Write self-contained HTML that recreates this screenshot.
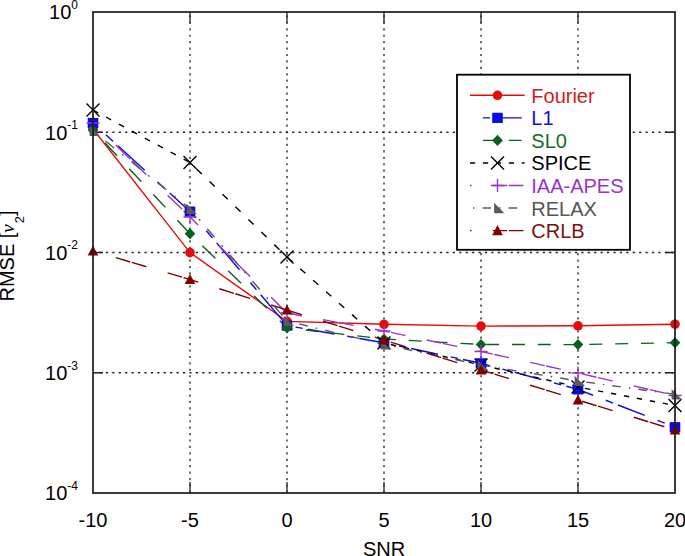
<!DOCTYPE html>
<html><head><meta charset="utf-8"><style>
html,body{margin:0;padding:0;background:#fff;overflow:hidden;width:685px;height:556px;}
svg{display:block;font-family:"Liberation Sans",sans-serif;}
</style></head><body>
<svg width="685" height="556" viewBox="0 0 685 556">
<rect width="685" height="556" fill="#fff"/>

<path d="M190 493V12M287 493V12M384 493V12M481 493V12M578 493V12M93 132.25H675M93 252.50H675M93 372.75H675" stroke="#222" stroke-width="1.3" stroke-dasharray="2.2 4.225" fill="none"/>
<path d="M190 493v-11M190 12v11M287 493v-11M287 12v11M384 493v-11M384 12v11M481 493v-11M481 12v11M578 493v-11M578 12v11M93 132.25h10M675 132.25h-10M93 252.50h10M675 252.50h-10M93 372.75h10M675 372.75h-10" stroke="#222" stroke-width="1.3" fill="none"/>
<polyline points="93,129 190,252.6 287,321.4 384,324.3 481,326.1 578,325.8 675,324.2" fill="none" stroke="#e80a0a" stroke-width="1.4"/>
<path d="M93 123L190 211.6" fill="none" stroke="#0a0ae6" stroke-width="1.4" stroke-dasharray="0.00 17.34 9.75 6.77 36.16 0.00" stroke-dashoffset="0.00"/>
<path d="M190 211.6L287 325.6" fill="none" stroke="#0a0ae6" stroke-width="1.4" stroke-dasharray="0.00 16.81 9.45 6.57 35.06 0.00" stroke-dashoffset="59.48"/>
<path d="M287 325.6L384 342.8" fill="none" stroke="#0a0ae6" stroke-width="1.4" stroke-dasharray="0.00 13.00 7.31 5.08 27.12 0.00" stroke-dashoffset="4.27"/>
<path d="M384 342.8L481 363.3" fill="none" stroke="#0a0ae6" stroke-width="1.4" stroke-dasharray="0.00 13.08 7.36 5.11 27.29 0.00" stroke-dashoffset="50.59"/>
<path d="M481 363.3L578 389.4" fill="none" stroke="#0a0ae6" stroke-width="1.4" stroke-dasharray="0.00 13.26 7.46 5.18 27.65 0.00" stroke-dashoffset="44.63"/>
<path d="M578 389.4L675 427.2" fill="none" stroke="#0a0ae6" stroke-width="1.4" stroke-dasharray="0.00 13.74 7.73 5.37 28.66 0.00" stroke-dashoffset="39.39"/>
<path d="M93 130L190 233.7" fill="none" stroke="#086020" stroke-width="1.4" stroke-dasharray="0.00 17.66 17.66 0.00" stroke-dashoffset="0.00"/>
<path d="M190 233.7L287 327.8" fill="none" stroke="#086020" stroke-width="1.4" stroke-dasharray="0.00 17.97 17.97 0.00" stroke-dashoffset="0.70"/>
<path d="M287 327.8L384 339" fill="none" stroke="#086020" stroke-width="1.4" stroke-dasharray="0.00 12.99 12.99 0.00" stroke-dashoffset="20.23"/>
<path d="M384 339L481 344.5" fill="none" stroke="#086020" stroke-width="1.4" stroke-dasharray="0.00 12.92 12.92 0.00" stroke-dashoffset="13.92"/>
<path d="M481 344.5L578 344.6" fill="none" stroke="#086020" stroke-width="1.4" stroke-dasharray="0.00 12.90 12.90 0.00" stroke-dashoffset="7.70"/>
<path d="M578 344.6L675 342.7" fill="none" stroke="#086020" stroke-width="1.4" stroke-dasharray="0.00 12.90 12.90 0.00" stroke-dashoffset="1.50"/>
<path d="M93 110L190 162.5" fill="none" stroke="#000000" stroke-width="1.4" stroke-dasharray="5.91 8.81" stroke-dashoffset="0.00"/>
<path d="M190 162.5L287 257" fill="none" stroke="#000000" stroke-width="1.4" stroke-dasharray="7.26 10.82" stroke-dashoffset="8.87"/>
<path d="M287 257L384 343" fill="none" stroke="#000000" stroke-width="1.4" stroke-dasharray="6.95 10.36" stroke-dashoffset="16.97"/>
<path d="M384 343L481 365" fill="none" stroke="#000000" stroke-width="1.4" stroke-dasharray="5.33 7.95" stroke-dashoffset="6.25"/>
<path d="M481 365L578 387" fill="none" stroke="#000000" stroke-width="1.4" stroke-dasharray="5.33 7.95" stroke-dashoffset="12.77"/>
<path d="M578 387L675 405.5" fill="none" stroke="#000000" stroke-width="1.4" stroke-dasharray="5.29 7.89" stroke-dashoffset="5.96"/>
<path d="M93 123L190 217" fill="none" stroke="#9933cc" stroke-width="1.4" stroke-dasharray="2.23 29.52 20.19 2.09 18.10 0.00" stroke-dashoffset="0.00"/>
<path d="M190 217L287 313" fill="none" stroke="#9933cc" stroke-width="1.4" stroke-dasharray="2.25 29.83 20.40 2.11 18.29 0.00" stroke-dashoffset="63.59"/>
<path d="M287 313L384 331" fill="none" stroke="#9933cc" stroke-width="1.4" stroke-dasharray="1.63 21.56 14.75 1.53 13.22 0.00" stroke-dashoffset="39.26"/>
<path d="M384 331L481 351.5" fill="none" stroke="#9933cc" stroke-width="1.4" stroke-dasharray="1.64 21.67 14.82 1.53 13.29 0.00" stroke-dashoffset="32.71"/>
<path d="M481 351.5L578 373" fill="none" stroke="#9933cc" stroke-width="1.4" stroke-dasharray="1.64 21.71 14.85 1.54 13.32 0.00" stroke-dashoffset="26.02"/>
<path d="M578 373L675 395.5" fill="none" stroke="#9933cc" stroke-width="1.4" stroke-dasharray="1.64 21.76 14.88 1.54 13.35 0.00" stroke-dashoffset="19.30"/>
<path d="M93 131L190 208.8" fill="none" stroke="#5a5a5a" stroke-width="1.4" stroke-dasharray="0.00 3.85 1.92 10.26 11.02 6.41" stroke-dashoffset="0.00"/>
<path d="M190 208.8L287 321" fill="none" stroke="#5a5a5a" stroke-width="1.4" stroke-dasharray="0.00 3.97 1.98 10.58 11.37 6.61" stroke-dashoffset="24.72"/>
<path d="M287 321L384 344.5" fill="none" stroke="#5a5a5a" stroke-width="1.4" stroke-dasharray="0.00 3.09 1.54 8.23 8.85 5.14" stroke-dashoffset="0.41"/>
<path d="M384 344.5L481 365" fill="none" stroke="#5a5a5a" stroke-width="1.4" stroke-dasharray="0.00 3.07 1.53 8.18 8.79 5.11" stroke-dashoffset="19.52"/>
<path d="M481 365L578 381" fill="none" stroke="#5a5a5a" stroke-width="1.4" stroke-dasharray="0.00 3.04 1.52 8.11 8.72 5.07" stroke-dashoffset="11.86"/>
<path d="M578 381L675 394.3" fill="none" stroke="#5a5a5a" stroke-width="1.4" stroke-dasharray="0.00 3.03 1.51 8.07 8.68 5.05" stroke-dashoffset="4.34"/>
<path d="M93 251L190 279.5" fill="none" stroke="#800000" stroke-width="1.4" stroke-dasharray="1.67 22.10 15.11 1.56 13.55 0.00" stroke-dashoffset="0.00"/>
<path d="M190 279.5L287 310" fill="none" stroke="#800000" stroke-width="1.4" stroke-dasharray="1.68 22.22 15.20 1.57 13.63 0.00" stroke-dashoffset="47.38"/>
<path d="M287 310L384 340" fill="none" stroke="#800000" stroke-width="1.4" stroke-dasharray="1.67 22.19 15.18 1.57 13.61 0.00" stroke-dashoffset="40.40"/>
<path d="M384 340L481 370" fill="none" stroke="#800000" stroke-width="1.4" stroke-dasharray="1.67 22.19 15.18 1.57 13.61 0.00" stroke-dashoffset="33.50"/>
<path d="M481 370L578 400" fill="none" stroke="#800000" stroke-width="1.4" stroke-dasharray="1.67 22.19 15.18 1.57 13.61 0.00" stroke-dashoffset="26.59"/>
<path d="M578 400L675 430" fill="none" stroke="#800000" stroke-width="1.4" stroke-dasharray="1.67 22.19 15.18 1.57 13.61 0.00" stroke-dashoffset="19.68"/>
<circle cx="93" cy="129" r="4.8" fill="#e80a0a"/>
<circle cx="190" cy="252.6" r="4.8" fill="#e80a0a"/>
<circle cx="287" cy="321.4" r="4.8" fill="#e80a0a"/>
<circle cx="384" cy="324.3" r="4.8" fill="#e80a0a"/>
<circle cx="481" cy="326.1" r="4.8" fill="#e80a0a"/>
<circle cx="578" cy="325.8" r="4.8" fill="#e80a0a"/>
<circle cx="675" cy="324.2" r="4.8" fill="#e80a0a"/>
<rect x="87.7" y="117.9" width="10.6" height="10.2" fill="#0a0ae6"/>
<rect x="184.7" y="206.5" width="10.6" height="10.2" fill="#0a0ae6"/>
<rect x="281.7" y="320.5" width="10.6" height="10.2" fill="#0a0ae6"/>
<rect x="378.7" y="337.7" width="10.6" height="10.2" fill="#0a0ae6"/>
<rect x="475.7" y="358.2" width="10.6" height="10.2" fill="#0a0ae6"/>
<rect x="572.7" y="384.29999999999995" width="10.6" height="10.2" fill="#0a0ae6"/>
<rect x="669.7" y="422.09999999999997" width="10.6" height="10.2" fill="#0a0ae6"/>
<path d="M93 124.4L98.3 130L93 135.6L87.7 130Z" fill="#086020"/>
<path d="M190 228.1L195.3 233.7L190 239.29999999999998L184.7 233.7Z" fill="#086020"/>
<path d="M287 322.2L292.3 327.8L287 333.40000000000003L281.7 327.8Z" fill="#086020"/>
<path d="M384 333.4L389.3 339L384 344.6L378.7 339Z" fill="#086020"/>
<path d="M481 338.9L486.3 344.5L481 350.1L475.7 344.5Z" fill="#086020"/>
<path d="M578 339.0L583.3 344.6L578 350.20000000000005L572.7 344.6Z" fill="#086020"/>
<path d="M675 337.09999999999997L680.3 342.7L675 348.3L669.7 342.7Z" fill="#086020"/>
<path d="M86.5 103.5L99.5 116.5M99.5 103.5L86.5 116.5" stroke="#000000" stroke-width="1.4" fill="none"/>
<path d="M183.5 156.0L196.5 169.0M196.5 156.0L183.5 169.0" stroke="#000000" stroke-width="1.4" fill="none"/>
<path d="M280.5 250.5L293.5 263.5M293.5 250.5L280.5 263.5" stroke="#000000" stroke-width="1.4" fill="none"/>
<path d="M377.5 336.5L390.5 349.5M390.5 336.5L377.5 349.5" stroke="#000000" stroke-width="1.4" fill="none"/>
<path d="M474.5 358.5L487.5 371.5M487.5 358.5L474.5 371.5" stroke="#000000" stroke-width="1.4" fill="none"/>
<path d="M571.5 380.5L584.5 393.5M584.5 380.5L571.5 393.5" stroke="#000000" stroke-width="1.4" fill="none"/>
<path d="M668.5 399.0L681.5 412.0M681.5 399.0L668.5 412.0" stroke="#000000" stroke-width="1.4" fill="none"/>
<path d="M86.5 123L99.5 123M93 116.5L93 129.5" stroke="#9933cc" stroke-width="1.4" fill="none"/>
<path d="M183.5 217L196.5 217M190 210.5L190 223.5" stroke="#9933cc" stroke-width="1.4" fill="none"/>
<path d="M280.5 313L293.5 313M287 306.5L287 319.5" stroke="#9933cc" stroke-width="1.4" fill="none"/>
<path d="M377.5 331L390.5 331M384 324.5L384 337.5" stroke="#9933cc" stroke-width="1.4" fill="none"/>
<path d="M474.5 351.5L487.5 351.5M481 345.0L481 358.0" stroke="#9933cc" stroke-width="1.4" fill="none"/>
<path d="M571.5 373L584.5 373M578 366.5L578 379.5" stroke="#9933cc" stroke-width="1.4" fill="none"/>
<path d="M668.5 395.5L681.5 395.5M675 389.0L675 402.0" stroke="#9933cc" stroke-width="1.4" fill="none"/>
<path d="M89.6 125.8L99.8 136.1L89.6 136.1Z" fill="#5a5a5a"/>
<path d="M186.6 203.60000000000002L196.8 213.9L186.6 213.9Z" fill="#5a5a5a"/>
<path d="M283.6 315.8L293.8 326.1L283.6 326.1Z" fill="#5a5a5a"/>
<path d="M380.6 339.3L390.8 349.6L380.6 349.6Z" fill="#5a5a5a"/>
<path d="M477.6 359.8L487.8 370.1L477.6 370.1Z" fill="#5a5a5a"/>
<path d="M574.6 375.8L584.8 386.1L574.6 386.1Z" fill="#5a5a5a"/>
<path d="M671.6 389.1L681.8 399.40000000000003L671.6 399.40000000000003Z" fill="#5a5a5a"/>
<path d="M93 245.5L98.3 255.6L87.7 255.6Z" fill="#800000"/>
<path d="M190 274.0L195.3 284.1L184.7 284.1Z" fill="#800000"/>
<path d="M287 304.5L292.3 314.6L281.7 314.6Z" fill="#800000"/>
<path d="M384 334.5L389.3 344.6L378.7 344.6Z" fill="#800000"/>
<path d="M481 364.5L486.3 374.6L475.7 374.6Z" fill="#800000"/>
<path d="M578 394.5L583.3 404.6L572.7 404.6Z" fill="#800000"/>
<path d="M675 424.5L680.3 434.6L669.7 434.6Z" fill="#800000"/>
<rect x="93" y="12" width="582" height="481" fill="none" stroke="#1a1a1a" stroke-width="1.7"/>
<text x="93" y="527" font-size="20" text-anchor="middle">-10</text>
<text x="190" y="527" font-size="20" text-anchor="middle">-5</text>
<text x="287" y="527" font-size="20" text-anchor="middle">0</text>
<text x="384" y="527" font-size="20" text-anchor="middle">5</text>
<text x="481" y="527" font-size="20" text-anchor="middle">10</text>
<text x="578" y="527" font-size="20" text-anchor="middle">15</text>
<text x="675" y="527" font-size="20" text-anchor="middle">20</text>
<text x="78" y="19.3" font-size="20" text-anchor="end">10<tspan font-size="12" dy="-10.3">0</tspan></text>
<text x="78" y="139.6" font-size="20" text-anchor="end">10<tspan font-size="12" dy="-10.3">-1</tspan></text>
<text x="78" y="259.8" font-size="20" text-anchor="end">10<tspan font-size="12" dy="-10.3">-2</tspan></text>
<text x="78" y="380.1" font-size="20" text-anchor="end">10<tspan font-size="12" dy="-10.3">-3</tspan></text>
<text x="78" y="500.3" font-size="20" text-anchor="end">10<tspan font-size="12" dy="-10.3">-4</tspan></text>
<text x="384" y="556" font-size="20" text-anchor="middle">SNR</text>
<text transform="translate(14,256) rotate(-90)" font-size="20" text-anchor="middle">RMSE [<tspan font-family="Liberation Serif" font-style="italic" font-size="19">ν</tspan><tspan font-size="13" dy="10" dx="1">2</tspan><tspan dy="-10">]</tspan></text>
<rect x="457" y="74.7" width="173" height="175.1" fill="#fff" stroke="#000" stroke-width="1.8"/>
<polyline points="470,95.3 524.6,95.3" fill="none" stroke="#e80a0a" stroke-width="1.4"/>
<circle cx="497.5" cy="95.3" r="4.8" fill="#e80a0a"/>
<text x="531.3" y="102.80" font-size="20" fill="#cc1c1c">Fourier</text>
<path d="M470 117.85L524.6 117.85" fill="none" stroke="#0a0ae6" stroke-width="1.4" stroke-dasharray="0.00 12.80 7.20 5.00 26.70 0.00" stroke-dashoffset="0.00"/>
<rect x="492.2" y="112.75" width="10.6" height="10.2" fill="#0a0ae6"/>
<text x="531.3" y="125.35" font-size="20" fill="#1212c8">L1</text>
<path d="M470 140.4L524.6 140.4" fill="none" stroke="#086020" stroke-width="1.4" stroke-dasharray="0.00 12.90 12.90 0.00" stroke-dashoffset="0.00"/>
<path d="M497.5 134.8L502.8 140.4L497.5 146.0L492.2 140.4Z" fill="#086020"/>
<text x="531.3" y="147.90" font-size="20" fill="#186a2a">SL0</text>
<path d="M470 162.95L524.6 162.95" fill="none" stroke="#000000" stroke-width="1.4" stroke-dasharray="5.20 7.75" stroke-dashoffset="0.00"/>
<path d="M491.0 156.45L504.0 169.45M504.0 156.45L491.0 169.45" stroke="#000000" stroke-width="1.4" fill="none"/>
<text x="531.3" y="170.45" font-size="20" fill="#000000">SPICE</text>
<path d="M470 185.5L524.6 185.5" fill="none" stroke="#9933cc" stroke-width="1.4" stroke-dasharray="1.60 21.20 14.50 1.50 13.00 0.00" stroke-dashoffset="0.00"/>
<path d="M491.0 185.5L504.0 185.5M497.5 179.0L497.5 192.0" stroke="#9933cc" stroke-width="1.4" fill="none"/>
<text x="531.3" y="193.00" font-size="20" fill="#9933cc">IAA-APES</text>
<path d="M470 208.05L524.6 208.05" fill="none" stroke="#5a5a5a" stroke-width="1.4" stroke-dasharray="0.00 3.00 1.50 8.00 8.60 5.00" stroke-dashoffset="0.00"/>
<path d="M494.1 202.85000000000002L504.3 213.15L494.1 213.15Z" fill="#5a5a5a"/>
<text x="531.3" y="215.55" font-size="20" fill="#555555">RELAX</text>
<path d="M470 230.6L524.6 230.6" fill="none" stroke="#800000" stroke-width="1.4" stroke-dasharray="1.60 21.20 14.50 1.50 13.00 0.00" stroke-dashoffset="0.00"/>
<path d="M497.5 225.1L502.8 235.2L492.2 235.2Z" fill="#800000"/>
<text x="531.3" y="238.10" font-size="20" fill="#801010">CRLB</text>
</svg></body></html>
